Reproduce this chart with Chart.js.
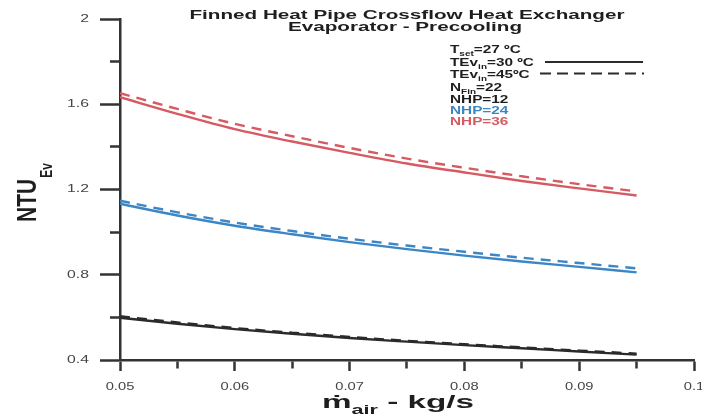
<!DOCTYPE html>
<html>
<head>
<meta charset="utf-8">
<script src="https://cdn.jsdelivr.net/npm/chart.js@4.4.1/dist/chart.umd.min.js"></script>
<style>
  html, body { margin: 0; padding: 0; background: #fff; }
</style>
</head>
<body>
<canvas id="myChart" width="702" height="416"></canvas>
<script>
// data (NTU of the evaporator vs air mass flow)
const massFlow = [0.05, 0.055, 0.06, 0.065, 0.07, 0.075, 0.08, 0.085, 0.09, 0.095];

const nhp12_30 = [0.598, 0.57, 0.545, 0.523, 0.503, 0.486, 0.47, 0.455, 0.44, 0.425];
const nhp12_45 = [0.605, 0.576, 0.55, 0.528, 0.508, 0.49, 0.474, 0.459, 0.444, 0.43];
const nhp24_30 = [1.133, 1.078, 1.03, 0.99, 0.953, 0.92, 0.89, 0.862, 0.837, 0.811];
const nhp24_45 = [1.147, 1.093, 1.045, 1.005, 0.969, 0.937, 0.908, 0.88, 0.855, 0.83];
const nhp36_30 = [1.633, 1.555, 1.483, 1.425, 1.372, 1.322, 1.28, 1.24, 1.205, 1.172];
const nhp36_45 = [1.652, 1.578, 1.508, 1.45, 1.395, 1.345, 1.302, 1.262, 1.225, 1.191];

// axis ticks
const xTicks = [0.05, 0.06, 0.07, 0.08, 0.09, 0.1];
const xMinorTicks = [0.055, 0.065, 0.075, 0.085, 0.095];
const yTicks = [0.4, 0.8, 1.2, 1.6, 2];
const yMinorTicks = [0.6, 1.0, 1.4, 1.8];

const RED = "#d65a61";
const BLUE = "#3c86c6";
const BLACK = "#2b2b2b";
const AXIS = "#333333";

function points(values) {
  return massFlow.map((m, i) => ({ x: m, y: values[i] }));
}

function series(label, values, color, dashed) {
  return {
    label: label,
    data: points(values),
    borderColor: color,
    borderWidth: 2.4,
    borderDash: dashed ? [10, 7] : [],
    pointRadius: 0,
    fill: false,
    cubicInterpolationMode: "monotone",
  };
}

function isMinor(list, v) {
  return list.some((m) => Math.abs(m - v) < 1e-9);
}

// draws text stretched sideways (the scan is wide)
function wideText(ctx, text, x, y, font, sx, align) {
  ctx.save();
  ctx.font = font;
  const w = ctx.measureText(text).width * sx;
  let x0 = x;
  if (align === "center") x0 = x - w / 2;
  if (align === "right") x0 = x - w;
  ctx.translate(x0, y);
  ctx.scale(sx, 1);
  ctx.textAlign = "left";
  ctx.fillText(text, 0, 0);
  ctx.restore();
  return w;
}

// runs of text with subscripts, left aligned at x, baseline y
function richText(ctx, runs, x, y, size, sx, color) {
  ctx.fillStyle = color;
  let cx = x;
  runs.forEach((r) => {
    if (r.sub) {
      cx += wideText(ctx, r.t, cx, y + size * 0.3, "bold " + (size * 0.65) + "px 'Liberation Sans'", sx, "left");
    } else {
      cx += wideText(ctx, r.t, cx, y, "bold " + size + "px 'Liberation Sans'", sx, "left");
    }
  });
  return cx;
}

const figureText = {
  id: "figureText",
  afterDraw(chart) {
    const ctx = chart.ctx;
    const xs = chart.scales.x;
    const ys = chart.scales.y;
    const area = chart.chartArea;

    ctx.save();
    // tick labels
    ctx.fillStyle = "#454545";
    ctx.textBaseline = "middle";
    yTicks.forEach((v) => {
      wideText(ctx, String(v), area.left - 31, ys.getPixelForValue(v), "10.5px 'Liberation Sans'", 1.5, "right");
    });
    xTicks.forEach((v) => {
      wideText(ctx, String(v), xs.getPixelForValue(v), area.bottom + 27, "10.5px 'Liberation Sans'", 1.4, "center");
    });
    ctx.textBaseline = "alphabetic";

    // title
    ctx.fillStyle = "#1e1e1e";
    wideText(ctx, "Finned Heat Pipe Crossflow Heat Exchanger", 407, 18.5, "bold 13.5px 'Liberation Sans'", 1.53, "center");
    wideText(ctx, "Evaporator - Precooling", 405, 30.5, "bold 13.5px 'Liberation Sans'", 1.53, "center");

    // legend block
    const lx = 450;
    const sx = 1.42;
    const fs = 10.8;
    richText(ctx, [{ t: "T" }, { t: "set", sub: true }, { t: "=27 ºC" }], lx, 53, fs, sx, "#1e1e1e");
    richText(ctx, [{ t: "TEv" }, { t: "in", sub: true }, { t: "=30 ºC" }], lx, 65.5, fs, sx, "#1e1e1e");
    richText(ctx, [{ t: "TEv" }, { t: "in", sub: true }, { t: "=45ºC" }], lx, 77.5, fs, sx, "#1e1e1e");
    richText(ctx, [{ t: "N" }, { t: "Fin", sub: true }, { t: "=22" }], lx, 90.5, fs, sx, "#1e1e1e");
    richText(ctx, [{ t: "NHP=12" }], lx, 102.5, fs, sx, "#1e1e1e");
    richText(ctx, [{ t: "NHP=24" }], lx, 113.5, fs, sx, BLUE);
    richText(ctx, [{ t: "NHP=36" }], lx, 124.5, fs, sx, RED);

    ctx.strokeStyle = BLACK;
    ctx.lineWidth = 2;
    ctx.beginPath(); ctx.moveTo(545, 62); ctx.lineTo(643, 62); ctx.stroke();
    ctx.setLineDash([11, 6]);
    ctx.beginPath(); ctx.moveTo(540, 73.5); ctx.lineTo(644, 73.5); ctx.stroke();
    ctx.setLineDash([]);

    // x title
    richText(ctx, [{ t: "\u1E41" }, { t: "air", sub: true }, { t: " - kg/s" }], 322, 408, 19, 1.75, "#1e1e1e");

    // y title, rotated
    ctx.save();
    ctx.translate(36, 222);
    ctx.rotate(-Math.PI / 2);
    ctx.scale(1, 1.3);
    ctx.fillStyle = "#1e1e1e";
    ctx.font = "bold 21px 'Liberation Sans'";
    ctx.fillText("NTU", 0, 0);
    const nw = ctx.measureText("NTU").width;
    ctx.font = "bold 12px 'Liberation Sans'";
    ctx.fillText("Ev", nw + 1, 12);
    ctx.restore();

    ctx.restore();
  },
};

const ctx = document.getElementById("myChart");
new Chart(ctx, {
  type: "line",
  data: {
    datasets: [
      series("NHP=12, TEvin=30 ºC", nhp12_30, BLACK, false),
      series("NHP=12, TEvin=45ºC", nhp12_45, BLACK, true),
      series("NHP=24, TEvin=30 ºC", nhp24_30, BLUE, false),
      series("NHP=24, TEvin=45ºC", nhp24_45, BLUE, true),
      series("NHP=36, TEvin=30 ºC", nhp36_30, RED, false),
      series("NHP=36, TEvin=45ºC", nhp36_45, RED, true),
    ],
  },
  options: {
    responsive: false,
    animation: false,
    devicePixelRatio: 1,
    layout: { padding: { top: 19, right: 8, left: 0, bottom: 0 } },
    plugins: {
      legend: { display: false },
      tooltip: { enabled: false },
    },
    scales: {
      x: {
        type: "linear",
        min: 0.05,
        max: 0.1,
        afterBuildTicks(scale) {
          scale.ticks = xTicks.concat(xMinorTicks).map((v) => ({ value: v }));
        },
        grid: {
          display: true,
          drawOnChartArea: false,
          drawTicks: true,
          tickLength: 11,
          tickWidth: 2.5,
          tickColor: AXIS,
          // minor ticks are shorter
          tickBorderDash: (c) => (c.tick && isMinor(xMinorTicks, c.tick.value) ? [7, 100] : []),
        },
        border: { display: true, color: AXIS, width: 2.5 },
        ticks: { display: false },
        afterFit(scale) { scale.height = 56; },
      },
      y: {
        type: "linear",
        min: 0.4,
        max: 2,
        afterBuildTicks(scale) {
          scale.ticks = yTicks.concat(yMinorTicks).map((v) => ({ value: v }));
        },
        grid: {
          display: true,
          drawOnChartArea: false,
          drawTicks: true,
          tickLength: 20,
          tickWidth: 2.5,
          tickColor: AXIS,
          // the tick is drawn from its outer end, so skip 10px first
          tickBorderDash: (c) => (c.tick && isMinor(yMinorTicks, c.tick.value) ? [0, 10, 10, 100] : []),
        },
        border: { display: true, color: AXIS, width: 2.5 },
        ticks: { display: false },
        afterFit(scale) { scale.width = 120; },
      },
    },
  },
  plugins: [figureText],
});
</script>
</body>
</html>
